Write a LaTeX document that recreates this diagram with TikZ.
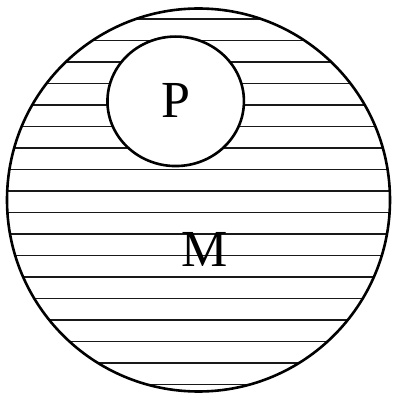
\documentclass[tikz,border=0pt]{standalone}
\usepackage{fontspec}
\setmainfont{Liberation Serif}
\usetikzlibrary{shapes.geometric}
\tikzset{
  outline/.style={draw=black, line width=2.6pt},
  hatch/.style={draw=black!90, line width=1.5pt},
  lbl/.style={font=\fontsize{52}{52}\selectfont, inner sep=0pt}
}
\begin{document}
\begin{tikzpicture}[x=1pt,y=1pt]
\useasboundingbox (0,0) rectangle (394,400);
\begin{scope}
  \clip (198.5,200) circle (191.5);
  \foreach \k in {0,...,17} {
    \draw[hatch] (0,{400-19-21.5*\k}) -- (394,{400-19-21.5*\k});
  }
\end{scope}
\node[outline, circle, minimum size=383pt, inner sep=0pt] (M) at (198.5,200) {};
\node[outline, ellipse, fill=white, minimum width=136.5pt, minimum height=129.5pt, inner sep=0pt] (P) at (175.7,298.7) {};
\node[lbl] (Plbl) at (176,299.5) {P};
\node[lbl] (Mlbl) at (204.5,151) {M};
\end{tikzpicture}
\end{document}
